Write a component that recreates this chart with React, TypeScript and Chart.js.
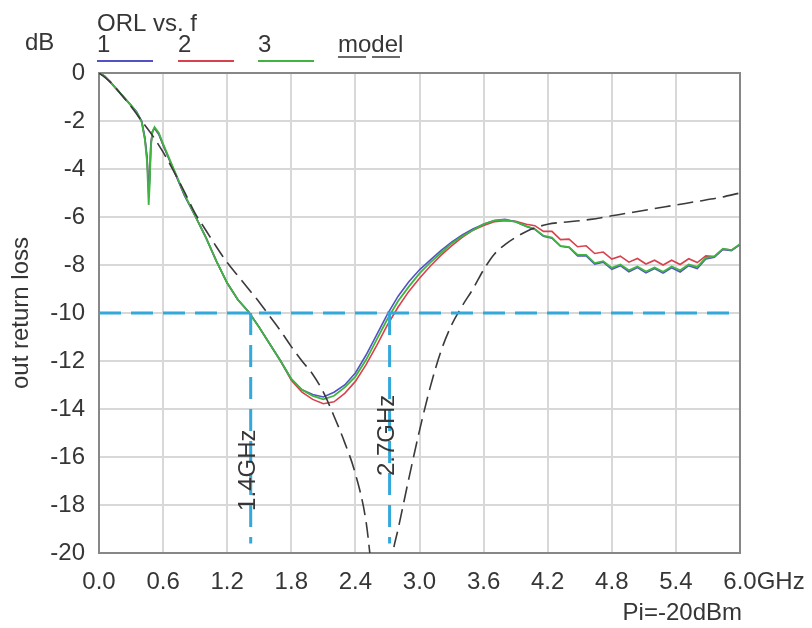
import React, { useEffect, useRef } from 'react';
import { Chart, registerables } from 'chart.js';

Chart.register(...registerables);

// ---------- data ----------
const measFreq = [
  0, 0.05, 0.1, 0.15, 0.2, 0.25, 0.3, 0.35, 0.4, 0.43, 0.45, 0.465, 0.475, 0.485, 0.5, 0.52, 0.56, 0.6,
  0.7, 0.8, 0.9, 1.0, 1.1, 1.2, 1.3, 1.4, 1.5, 1.6, 1.7, 1.8, 1.9, 2.0, 2.1, 2.2, 2.3, 2.4, 2.5, 2.6, 2.7,
  2.8, 2.9, 3.0, 3.1, 3.2, 3.3, 3.4, 3.5, 3.6, 3.7, 3.8, 3.9,
  4.0, 4.08, 4.16, 4.24, 4.32, 4.4, 4.48, 4.56, 4.64, 4.72, 4.8, 4.88, 4.96, 5.04, 5.12, 5.2, 5.28, 5.36,
  5.44, 5.52, 5.6, 5.68, 5.76, 5.84, 5.92, 6.0,
];

const orl1 = [
  0, -0.12, -0.35, -0.6, -0.85, -1.1, -1.35, -1.6, -2.0, -2.7, -3.5, -5.0, -4.4, -3.0, -2.45, -2.3, -2.55, -3.0,
  -4.05, -5.1, -5.95, -6.85, -7.85, -8.75, -9.45, -9.95, -10.6, -11.3, -12.0, -12.75, -13.2, -13.4, -13.5, -13.3,
  -13.0, -12.5, -11.75, -10.9, -10.05, -9.3, -8.7, -8.2, -7.8, -7.4, -7.05, -6.75, -6.5, -6.3, -6.15, -6.1, -6.2,
  -6.4, -6.52, -6.8, -6.88, -7.22, -7.27, -7.62, -7.62, -7.96, -7.88, -8.18, -8.03, -8.28, -8.11, -8.33, -8.15,
  -8.34, -8.12, -8.29, -8.03, -8.15, -7.75, -7.68, -7.35, -7.4, -7.15,
];

const orl2 = [
  0, -0.12, -0.35, -0.6, -0.85, -1.1, -1.35, -1.62, -2.05, -2.75, -3.6, -4.8, -4.3, -3.0, -2.45, -2.3, -2.55, -3.0,
  -4.05, -5.1, -5.95, -6.85, -7.85, -8.75, -9.45, -9.95, -10.6, -11.3, -12.0, -12.8, -13.3, -13.6, -13.78, -13.7,
  -13.35, -12.85, -12.15, -11.35, -10.5, -9.75, -9.1, -8.55, -8.05, -7.6, -7.2, -6.85, -6.55, -6.35, -6.2, -6.15, -6.18,
  -6.3, -6.36, -6.6, -6.6, -6.94, -6.92, -7.24, -7.2, -7.52, -7.46, -7.75, -7.63, -7.88, -7.73, -7.96, -7.8,
  -8.0, -7.8, -7.98, -7.74, -7.9, -7.62, -7.65, -7.34, -7.38, -7.15,
];

const orl3 = [
  0, -0.12, -0.35, -0.6, -0.85, -1.1, -1.35, -1.62, -2.05, -2.8, -3.7, -5.5, -4.6, -3.1, -2.45, -2.25, -2.5, -2.95,
  -4.0, -5.05, -5.95, -6.85, -7.85, -8.75, -9.45, -9.95, -10.6, -11.3, -12.0, -12.75, -13.2, -13.45, -13.6, -13.45,
  -13.1, -12.65, -11.95, -11.1, -10.25, -9.5, -8.9, -8.35, -7.9, -7.5, -7.1, -6.8, -6.55, -6.3, -6.15, -6.12, -6.2,
  -6.38, -6.5, -6.78, -6.86, -7.2, -7.25, -7.58, -7.58, -7.92, -7.84, -8.12, -7.98, -8.22, -8.06, -8.27, -8.1,
  -8.28, -8.06, -8.22, -7.98, -8.08, -7.7, -7.64, -7.32, -7.38, -7.12,
];

const modelFreq = [
  0, 0.1, 0.2, 0.3, 0.4, 0.5, 0.6, 0.7, 0.8, 0.9, 1.0, 1.1, 1.2, 1.3, 1.4, 1.5, 1.6, 1.7, 1.8, 1.9, 2.0, 2.1,
  2.2, 2.3, 2.4, 2.5, 2.56, 2.62, 2.68, 2.75, 2.8, 2.9, 3.0, 3.1, 3.2, 3.3, 3.4, 3.5, 3.6, 3.7, 3.8, 3.9, 4.0,
  4.2, 4.4, 4.6, 4.8, 5.0, 5.2, 5.4, 5.6, 5.8, 6.0,
];
const modelOrl = [
  0, -0.35, -0.85, -1.4, -2.0, -2.6, -3.3, -4.1, -4.95, -5.85, -6.55, -7.25, -7.9, -8.45, -9.0, -9.55, -10.15,
  -10.75, -11.4, -12.0, -12.55, -13.3, -14.3, -15.4, -16.7, -18.7, -21.0, -23.0, -22.3, -20.0, -19.0, -16.9,
  -14.9, -13.1, -11.6, -10.5, -9.7, -9.0, -8.2, -7.55, -7.15, -6.85, -6.6, -6.3, -6.2, -6.1, -5.95, -5.8, -5.65,
  -5.5, -5.35, -5.2, -5.0,
];

const xTicks = [0, 0.6, 1.2, 1.8, 2.4, 3.0, 3.6, 4.2, 4.8, 5.4, 6.0];
const xTickLabels = ['0.0', '0.6', '1.2', '1.8', '2.4', '3.0', '3.6', '4.2', '4.8', '5.4', '6.0'];
const xUnit = 'GHz';
const yTicks = [0, -2, -4, -6, -8, -10, -12, -14, -16, -18, -20];
const yTickLabels = ['0', '-2', '-4', '-6', '-8', '-10', '-12', '-14', '-16', '-18', '-20'];

const refLevel = -10;
const refSpan = [0, 6];
const markerFreqs = [1.42, 2.72];
const markerBottom = -19.6;
const markerLabels = ['1.4GHz', '2.7GHz'];
const markerLabelDb = [-16.55, -15.1];

const seriesNames = ['1', '2', '3', 'model'];
const chartTitle = 'ORL vs. f';
const yUnit = 'dB';
const yTitle = 'out return loss';
const footnote = 'Pi=-20dBm';

// ---------- styles ----------
const FONT = '"Liberation Sans", Arial, sans-serif';
const TEXT = '#363636';
const C_BLUE = '#5252c4';
const C_RED = '#d8424e';
const C_GREEN = '#3fb53f';
const C_MODEL = '#3a3a3a';
const C_REF = '#33a8da';
const GRID = '#d8d8d8';
const FRAME = '#878787';

const pts = (xs: number[], ys: number[]) => xs.map((x, i) => ({ x, y: ys[i] }));

export default function App() {
  const ref = useRef<HTMLCanvasElement>(null);

  useEffect(() => {
    const canvas = ref.current!;
    const font = (s: number) => `${s}px ${FONT}`;

    const decor = {
      id: 'decor',
      beforeDatasetsDraw(chart: any) {
        const { ctx, chartArea: a } = chart;
        ctx.save();
        ctx.strokeStyle = FRAME;
        ctx.lineWidth = 2;
        ctx.strokeRect(a.left, a.top, a.right - a.left, a.bottom - a.top);
        ctx.restore();
      },
      afterDatasetsDraw(chart: any) {
        const { ctx } = chart;
        const xs = chart.scales.x;
        const ys = chart.scales.y;
        ctx.save();
        ctx.fillStyle = TEXT;
        ctx.font = font(24);
        ctx.textAlign = 'center';
        ctx.textBaseline = 'alphabetic';
        markerLabels.forEach((t, i) => {
          const px = xs.getPixelForValue(markerFreqs[i]) + 4;
          const py = ys.getPixelForValue(markerLabelDb[i]);
          ctx.save();
          ctx.translate(px, py);
          ctx.rotate(-Math.PI / 2);
          ctx.fillText(t, 0, 0);
          ctx.restore();
        });
        ctx.restore();
      },
      afterDraw(chart: any) {
        const { ctx } = chart;
        const xs = chart.scales.x;
        const a = chart.chartArea;
        ctx.save();
        ctx.fillStyle = TEXT;
        ctx.font = font(24);
        ctx.textBaseline = 'alphabetic';
        ctx.textAlign = 'left';
        ctx.fillText(chartTitle, 97, 31);
        ctx.fillText(yUnit, 25, 50);

        const lx = [97, 178, 258, 338];
        const colors = [C_BLUE, C_RED, C_GREEN];
        seriesNames.forEach((n, i) => {
          ctx.fillStyle = TEXT;
          ctx.fillText(n, lx[i], 52);
          ctx.beginPath();
          if (i < 3) {
            ctx.setLineDash([]);
            ctx.strokeStyle = colors[i];
            ctx.lineWidth = 2;
            ctx.moveTo(lx[i], 61);
            ctx.lineTo(lx[i] + 56, 61);
          } else {
            ctx.setLineDash([28, 6]);
            ctx.strokeStyle = C_MODEL;
            ctx.lineWidth = 1.5;
            ctx.moveTo(lx[i], 57);
            ctx.lineTo(lx[i] + 67, 57);
          }
          ctx.stroke();
        });
        ctx.setLineDash([]);

        // unit after last x tick
        const last = xTicks[xTicks.length - 1];
        const lp = xs.getPixelForValue(last);
        const w = ctx.measureText(xTickLabels[xTickLabels.length - 1]).width;
        ctx.fillStyle = TEXT;
        ctx.textBaseline = 'middle';
        ctx.fillText(xUnit, lp + w / 2, a.bottom + 15 + 14.4);

        ctx.textAlign = 'right';
        ctx.textBaseline = 'alphabetic';
        ctx.fillText(footnote, 742, 620);
        ctx.restore();
      },
    };

    const lineDs = (label: string, data: any[], color: string, width: number, dash: number[] = []) => ({
      label,
      data,
      borderColor: color,
      backgroundColor: color,
      borderWidth: width,
      borderDash: dash,
      pointRadius: 0,
      tension: 0,
      fill: false,
    });

    const datasets: any[] = [
      lineDs('ref', refSpan.map((x) => ({ x, y: refLevel })), C_REF, 3, [22, 10]),
      ...markerFreqs.map((f, i) =>
        lineDs('marker' + i, [{ x: f, y: refLevel }, { x: f, y: markerBottom }], C_REF, 3, [22, 10])
      ),
      { ...lineDs(seriesNames[3], pts(modelFreq, modelOrl), C_MODEL, 1.6, [16, 7]), cubicInterpolationMode: 'monotone' },
      lineDs(seriesNames[2], pts(measFreq, orl3), C_GREEN, 1.8),
      lineDs(seriesNames[0], pts(measFreq, orl1), C_BLUE, 1.6),
      lineDs(seriesNames[1], pts(measFreq, orl2), C_RED, 1.6),
    ];

    const chart = new Chart(canvas, {
      type: 'line',
      data: { datasets },
      plugins: [decor],
      options: {
        animation: false,
        responsive: false,
        devicePixelRatio: 1,
        events: [],
        layout: { padding: { left: 0, top: 73, right: 72, bottom: 0 } },
        plugins: { legend: { display: false }, tooltip: { enabled: false } },
        scales: {
          x: {
            type: 'linear',
            min: 0,
            max: 6,
            afterBuildTicks: (s: any) => {
              s.ticks = xTicks.map((v) => ({ value: v }));
            },
            afterFit: (s: any) => {
              s.height = 75;
            },
            ticks: {
              autoSkip: false,
              maxRotation: 0,
              padding: 15,
              color: TEXT,
              font: { family: FONT, size: 24 },
              callback: (_v: any, i: number) => xTickLabels[i],
            },
            grid: { color: GRID, lineWidth: 2, drawTicks: false },
            border: { display: false },
          },
          y: {
            type: 'linear',
            min: -20,
            max: 0,
            afterBuildTicks: (s: any) => {
              s.ticks = yTicks.map((v) => ({ value: v }));
            },
            afterFit: (s: any) => {
              s.width = 99;
            },
            ticks: {
              autoSkip: false,
              padding: 14,
              color: TEXT,
              font: { family: FONT, size: 24 },
              callback: (v: any) => yTickLabels[yTicks.indexOf(Number(v))] ?? String(v),
            },
            grid: { color: GRID, lineWidth: 2, drawTicks: false },
            border: { display: false },
            title: {
              display: true,
              text: yTitle,
              color: TEXT,
              font: { family: FONT, size: 24 },
              padding: { top: 7, bottom: 0 },
            },
          },
        },
      } as any,
    });

    return () => chart.destroy();
  }, []);

  return (
    <div style={{ position: 'fixed', left: 0, top: 0, width: 812, height: 628, background: '#fff' }}>
      <canvas ref={ref} width={812} height={628} style={{ display: 'block', width: 812, height: 628 }} />
    </div>
  );
}
